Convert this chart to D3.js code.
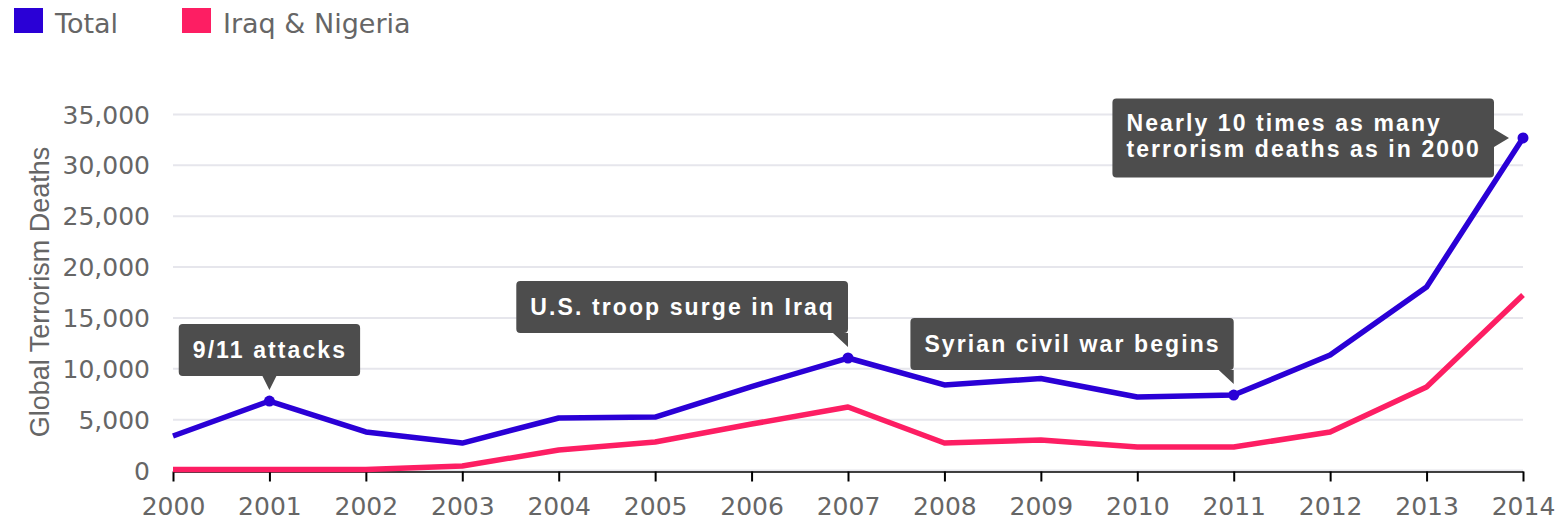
<!DOCTYPE html>
<html>
<head>
<meta charset="utf-8">
<script src="https://cdn.jsdelivr.net/npm/d3@7"></script>
<style>
  body { margin: 0; background: #fff; }
  svg { display: block; }
</style>
</head>
<body>
<svg id="canvas" width="1561" height="521"></svg>
<script>
var years = [2000, 2001, 2002, 2003, 2004, 2005, 2006, 2007, 2008, 2009, 2010, 2011, 2012, 2013, 2014],
  total = [3340, 6780, 3740, 2650, 5110, 5210, 8200, 11010, 8360, 9000, 7180, 7370, 11300, 18000, 32650],
  iraqNigeria = [50, 50, 50, 390, 1970, 2750, 4520, 6190, 2650, 2950, 2260, 2260, 3740, 8160, 17200],
  yTicks = [0, 5000, 10000, 15000, 20000, 25000, 30000, 35000];

var seriesNames = ['Total', 'Iraq & Nigeria'],
  seriesColors = ['#2a00d6', '#fd1e63'];

// annotated points: year, lines of text, where the box sits
var notes = [
  {year: 2001, lines: ['9/11 attacks'], place: 'above'},
  {year: 2007, lines: ['U.S. troop surge in Iraq'], place: 'aboveLeft'},
  {year: 2011, lines: ['Syrian civil war begins'], place: 'aboveLeft'},
  {year: 2014, lines: ['Nearly 10 times as many', 'terrorism deaths as in 2000'], place: 'left'}
];

var svg = d3.select('#canvas'),
  plotL = 173, plotR = 1523, plotT = 114, plotB = 470;

var x = d3.scaleLinear().domain([2000, 2014]).range([plotL, plotR]),
  y = d3.scaleLinear().domain([0, 35000]).range([plotB, plotT]);

// grid + y labels
var yAxis = svg.append('g')
  .attr('transform', 'translate(' + plotL + ',0)')
  .call(d3.axisLeft(y).tickValues(yTicks).tickSize(-(plotR - plotL)).tickPadding(23).tickFormat(d3.format(',')));
yAxis.select('.domain').remove();
yAxis.selectAll('.tick line')
  .attr('stroke', '#e6e6ec')
  .attr('stroke-width', 2);
yAxis.selectAll('.tick text')
  .attr('fill', '#666')
  .attr('dy', '0.36em')
  .style('font-family', 'DejaVu Sans')
  .style('font-size', '25px');

svg.append('text')
  .attr('transform', 'translate(49,292)rotate(-90)')
  .attr('text-anchor', 'middle')
  .attr('fill', '#666')
  .style('font-family', 'Liberation Sans')
  .style('font-size', '27px')
  .text('Global Terrorism Deaths');

// x axis
var xAxis = svg.append('g')
  .attr('transform', 'translate(0,' + (plotB + 1.5) + ')')
  .call(d3.axisBottom(x).tickValues(years).tickSize(10).tickSizeOuter(0).tickPadding(6).tickFormat(d3.format('d')));
xAxis.select('.domain').attr('stroke', '#000').attr('stroke-width', 1.5);
xAxis.selectAll('.tick line').attr('stroke', '#000').attr('stroke-width', 2);
xAxis.selectAll('.tick text')
  .attr('fill', '#666')
  .attr('y', 43)
  .attr('dy', 0)
  .style('font-family', 'DejaVu Sans')
  .style('font-size', '25px');

// lines
var line = d3.line()
  .x(function(d, i) { return x(years[i]); })
  .y(function(d) { return y(d); });

[iraqNigeria, total].forEach(function(s, k) {
  svg.append('path')
    .datum(s)
    .attr('d', line)
    .attr('fill', 'none')
    .attr('stroke', seriesColors[1 - k])
    .attr('stroke-width', 5.5)
    .attr('stroke-linejoin', 'round');
});

// annotation boxes
var notesG = svg.append('g');
notes.forEach(function(n) {
  var i = years.indexOf(n.year),
    px = x(n.year),
    py = y(total[i]),
    g = notesG.append('g');

  var bg = g.append('path').attr('fill', '#4d4d4d');
  var t = g.append('text')
    .attr('fill', '#fff')
    .style('font-family', 'Liberation Sans')
    .style('font-weight', 'bold')
    .style('font-size', '23px')
    .style('letter-spacing', '2.1px');
  t.selectAll('tspan').data(n.lines).enter().append('tspan')
    .attr('x', 0)
    .attr('dy', function(d, j) { return j ? 26 : 0; })
    .text(function(d) { return d; });

  var w = t.node().getBBox().width + 27,
    h = n.lines.length == 1 ? 52 : 79,
    bx, by, tri;
  if (n.place == 'above') {
    bx = px - w / 2; by = py - 25 - h;
    tri = [[px - 7, by + h], [px, py - 11], [px + 7, by + h]];
  } else if (n.place == 'aboveLeft') {
    bx = px - w; by = py - 25 - h;
    tri = [[px - 15, by + h], [px, by + h + 14], [px, by + h]];
  } else {
    bx = px - 29 - w; by = py - h / 2;
    tri = [[px - 29, py - 9], [px - 14, py], [px - 29, py + 9]];
  }
  var r = 4;
  var p = d3.path();
  p.moveTo(bx + r, by);
  p.arcTo(bx + w, by, bx + w, by + h, r);
  p.arcTo(bx + w, by + h, bx, by + h, r);
  p.arcTo(bx, by + h, bx, by, r);
  p.arcTo(bx, by, bx + w, by, r);
  p.closePath();
  p.moveTo(tri[0][0], tri[0][1]);
  p.lineTo(tri[1][0], tri[1][1]);
  p.lineTo(tri[2][0], tri[2][1]);
  p.closePath();
  bg.attr('d', p.toString());

  t.attr('transform', 'translate(' + (bx + 14) + ',' + (by + (n.lines.length == 1 ? 34 : 33)) + ')');

  g.append('circle')
    .attr('cx', px)
    .attr('cy', py)
    .attr('r', 5.5)
    .attr('fill', seriesColors[0]);
});

// legend
var legend = svg.append('g');
var legX = [14, 182];
seriesNames.forEach(function(name, k) {
  legend.append('rect')
    .attr('x', legX[k])
    .attr('y', 8)
    .attr('width', 29)
    .attr('height', 25)
    .attr('fill', seriesColors[k]);
  legend.append('text')
    .attr('x', legX[k] + 41)
    .attr('y', 33)
    .attr('fill', '#666')
    .style('font-family', 'DejaVu Sans')
    .style('font-size', '27px')
    .text(name);
});
</script>
</body>
</html>
